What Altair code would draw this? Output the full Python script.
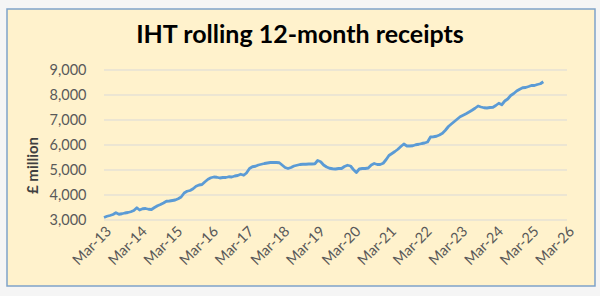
import altair as alt
import pandas as pd

# Rolling 12-month IHT receipts (£ million), monthly from Mar-2013 to Jul-2025
receipts = [
    3100, 3150, 3180, 3220, 3290, 3230, 3250, 3280, 3300, 3330, 3380, 3490,   # Mar13-Feb14
    3400, 3450, 3460, 3430, 3420, 3500, 3570, 3620, 3680, 3750, 3760, 3780,   # Mar14-Feb15
    3800, 3850, 3920, 4080, 4150, 4180, 4250, 4350, 4400, 4420, 4530, 4630,   # Mar15-Feb16
    4690, 4720, 4710, 4680, 4700, 4700, 4730, 4720, 4760, 4780, 4830, 4790,   # Mar16-Feb17
    4880, 5060, 5130, 5150, 5200, 5230, 5260, 5280, 5300, 5300, 5300, 5290,   # Mar17-Feb18
    5200, 5100, 5060, 5100, 5160, 5190, 5220, 5230, 5230, 5240, 5240, 5250,   # Mar18-Feb19
    5380, 5330, 5200, 5120, 5070, 5050, 5040, 5060, 5060, 5140, 5190, 5160,   # Mar19-Feb20
    5020, 4900, 5040, 5060, 5060, 5080, 5200, 5260, 5220, 5220, 5270, 5420,   # Mar20-Feb21
    5580, 5660, 5740, 5830, 5940, 6040, 5960, 5960, 5970, 6010, 6030, 6060,   # Mar21-Feb22
    6080, 6120, 6320, 6330, 6350, 6400, 6470, 6590, 6740, 6840, 6940, 7040,   # Mar22-Feb23
    7130, 7190, 7250, 7320, 7390, 7470, 7560, 7520, 7490, 7480, 7500, 7510,   # Mar23-Feb24
    7580, 7670, 7610, 7760, 7840, 7980, 8060, 8160, 8230, 8290, 8300, 8340,   # Mar24-Feb25
    8380, 8380, 8420, 8450, 8530,                                             # Mar25-Jul25
]
tick_years = list(range(2013, 2027))          # x-axis ticks: March of each year
y_ticks = [3000, 4000, 5000, 6000, 7000, 8000, 9000]

months = pd.date_range("2013-03-01", periods=len(receipts), freq="MS").strftime("%Y-%m-%d")
df = pd.DataFrame({"month": months, "value": receipts})
grid_df = pd.DataFrame({"value": y_ticks})

FONT = "Lato"
W, H = 463, 150
PAD_L, PAD_T = 104, 70

x_scale = alt.Scale(type="utc",
                    domain=[alt.DateTime(year=2013, month=3, date=1, utc=True),
                            alt.DateTime(year=2026, month=3, date=1, utc=True)])
y_scale = alt.Scale(domain=[3000, 9000], nice=False, zero=False)

x_axis = alt.Axis(
    values=[alt.DateTime(year=y, month=3, date=1, utc=True) for y in tick_years],
    labelExpr="utcFormat(datum.value, '%b-%y')", labelAngle=-45, labelAlign="right",
    labelBaseline="top", labelPadding=4, ticks=False, grid=False, labelFontSize=14.5,
    domain=False, title=None, labelFlush=False, labelOverlap=False, zindex=1,
)
y_axis = alt.Axis(
    values=y_ticks, labelExpr="format(datum.value, ',')", ticks=False, domain=False,
    grid=False, labelPadding=18, zindex=1, labelFontSize=14.5,
    title="£ million", titleFontWeight="bold", titleFontSize=15,
    titleColor="#404040", titleFont=FONT, titleX=32 - PAD_L, titleY=165 - PAD_T,
    titleBaseline="middle", titleAlign="center", titleAngle=-90,
)

frame = alt.Chart(pd.DataFrame({"k": [0]})).mark_rect(
    fill="#FFF2CC", stroke="#7FA3C9", strokeWidth=1.5
).encode(
    x=alt.value(7 - PAD_L), x2=alt.value(595 - PAD_L),
    y=alt.value(9 - PAD_T), y2=alt.value(286 - PAD_T),
)

grid = alt.Chart(grid_df).mark_rule(color="#D9D9D9", strokeWidth=1).encode(
    y=alt.Y("value:Q", scale=y_scale, axis=y_axis),
    x=alt.value(0), x2=alt.value(W),
)

line = alt.Chart(df).mark_line(color="#5B9BD5", strokeWidth=2.8, strokeJoin="round").encode(
    x=alt.X("month:T", scale=x_scale, axis=x_axis),
    y=alt.Y("value:Q", scale=y_scale, axis=y_axis),
)

chart = alt.layer(frame, grid, line).properties(
    width=W, height=H,
    autosize=alt.AutoSizeParams(type="none"),
    padding={"left": PAD_L, "top": PAD_T, "right": 600 - PAD_L - W, "bottom": 296 - PAD_T - H},
    background="#F5F5F5",
    title=alt.TitleParams(
        "IHT rolling 12-month receipts", font=FONT, fontSize=25, fontWeight="bold",
        color="#000000", anchor="middle", dx=300 - (PAD_L + W / 2), dy=60, offset=0,
        baseline="alphabetic",
    ),
).configure_view(stroke=None).configure_axis(
    labelFont=FONT, labelFontSize=14, labelColor="#595959"
)

chart.save("out.html", embed_options={"renderer": "svg", "actions": False})
